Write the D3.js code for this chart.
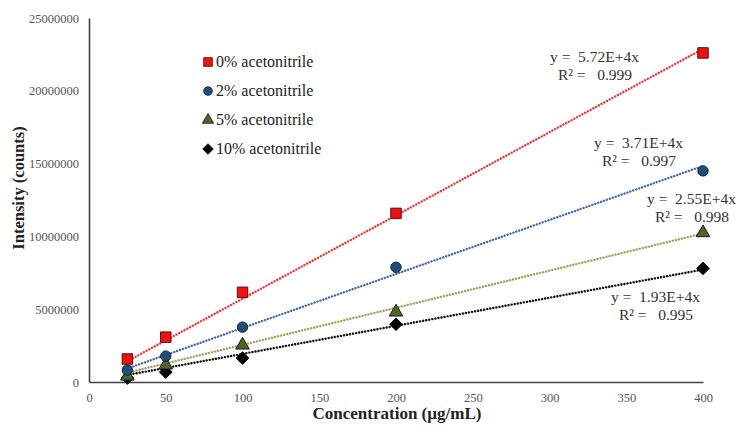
<!DOCTYPE html>
<html>
<head>
<meta charset="utf-8">
<script src="https://cdn.jsdelivr.net/npm/d3@7"></script>
<style>
  body { margin: 0; background: #fff; }
</style>
</head>
<body>
<div id="chart"></div>
<script>
// concentrations (ug/mL)
var conc = [25, 50, 100, 200, 400];
var seriesNames = ["0% acetonitrile", "2% acetonitrile", "5% acetonitrile", "10% acetonitrile"];
var acn0 = [1580000, 3080000, 6160000, 11580000, 22600000];
var acn2 = [820000, 1780000, 3770000, 7880000, 14500000];
var acn5 = [400000, 1160000, 2530000, 4800000, 10250000];
var acn10 = [270000, 680000, 1640000, 3970000, 7800000];
var slopes = [5.72e4, 3.71e4, 2.55e4, 1.93e4];
var eqLabels = ["y =  5.72E+4x", "y =  3.71E+4x", "y =  2.55E+4x", "y =  1.93E+4x"];
var r2Labels = ["R² =   0.999", "R² =   0.997", "R² =   0.998", "R² =   0.995"];
var xTicks = [0, 50, 100, 150, 200, 250, 300, 350, 400];
var yTicks = [0, 5000000, 10000000, 15000000, 20000000, 25000000];

var W = 746, H = 426;
var SERIF = "'Liberation Serif', 'Times New Roman', 'DejaVu Serif', serif";
var svg = d3.select("#chart").append("svg").attr("width", W).attr("height", H)
  .style("font-family", SERIF);

var x = d3.scaleLinear().domain([0, 400]).range([89, 703]);
var y = d3.scaleLinear().domain([0, 25000000]).range([382, 18]);

// square-ish diamond (d3's own is too tall)
var diamond = {
  draw: function(ctx, size) {
    var r = Math.sqrt(size / 2);
    ctx.moveTo(0, -r); ctx.lineTo(r, 0); ctx.lineTo(0, r); ctx.lineTo(-r, 0); ctx.closePath();
  }
};

var styles = [
  { fill: "#ee1111", stroke: "#5a1010", line: "#e83a3a", shape: d3.symbolSquare, size: 110 },
  { fill: "#1f4e79", stroke: "#10243a", line: "#4a68a8", shape: d3.symbolCircle, size: 85 },
  { fill: "#4f6228", stroke: "#1a1a1a", line: "#a8a060", shape: d3.symbolTriangle, size: 80 },
  { fill: "#000000", stroke: "#000000", line: "#111111", shape: diamond, size: 80 }
];
var data = [acn0, acn2, acn5, acn10];

// axes
var xAxis = svg.append("g").attr("transform", "translate(0,382)")
  .call(d3.axisBottom(x).tickValues(xTicks).tickSize(0).tickPadding(11));
var yAxis = svg.append("g").attr("transform", "translate(89,0)")
  .call(d3.axisLeft(y).tickValues(yTicks).tickSize(0).tickPadding(10).tickFormat(d3.format("d")));
[xAxis, yAxis].forEach(function(a) {
  a.attr("font-family", null);
  a.select(".domain").attr("stroke", "#444").attr("stroke-width", 1.6);
  a.selectAll("text").attr("font-size", 12.5).attr("fill", "#555")
    .style("font-family", SERIF);
});

// trendlines
slopes.forEach(function(s, i) {
  svg.append("line")
    .attr("x1", x(25)).attr("y1", y(s * 25))
    .attr("x2", x(400)).attr("y2", y(s * 400))
    .attr("stroke", styles[i].line).attr("stroke-width", 2.4)
    .attr("stroke-dasharray", "0.1,3").attr("stroke-linecap", "round");
});

// points (back to front so red is on top)
for (var i = data.length - 1; i >= 0; i--) {
  (function(i) {
    var st = styles[i];
    svg.append("g").selectAll("path")
      .data(data[i])
      .enter().append("path")
      .attr("d", d3.symbol().type(st.shape).size(st.size))
      .attr("transform", function(d, j) { return "translate(" + x(conc[j]) + "," + y(d) + ")"; })
      .attr("fill", st.fill).attr("stroke", st.stroke).attr("stroke-width", 1);
  })(i);
}

// equation labels
var eqPos = [[550, 62, 558, 80], [594, 148, 602, 166], [647, 204, 655, 222], [611, 302, 619, 320]];
eqLabels.forEach(function(t, i) {
  svg.append("text").attr("x", eqPos[i][0]).attr("y", eqPos[i][1])
    .attr("font-size", 15.5).attr("fill", "#333").attr("xml:space", "preserve").text(t);
  svg.append("text").attr("x", eqPos[i][2]).attr("y", eqPos[i][3])
    .attr("font-size", 15.5).attr("fill", "#333").attr("xml:space", "preserve").text(r2Labels[i]);
});

// legend
var legend = svg.append("g");
seriesNames.forEach(function(n, i) {
  var ly = 62 + i * 29;
  var st = styles[i];
  legend.append("path")
    .attr("d", d3.symbol().type(st.shape).size(st.size * 0.7))
    .attr("transform", "translate(208," + ly + ")")
    .attr("fill", st.fill).attr("stroke", st.stroke).attr("stroke-width", 0.8);
  legend.append("text").attr("x", 216).attr("y", ly + 5)
    .attr("font-size", 16).attr("fill", "#222").text(n);
});

// axis titles
svg.append("text").attr("x", 397).attr("y", 419).attr("text-anchor", "middle")
  .attr("font-size", 17).attr("font-weight", "bold").attr("fill", "#222")
  .text("Concentration (µg/mL)");
svg.append("text").attr("transform", "translate(24,188) rotate(-90)").attr("text-anchor", "middle")
  .attr("font-size", 16.5).attr("font-weight", "bold").attr("fill", "#222")
  .text("Intensity (counts)");
</script>
</body>
</html>
